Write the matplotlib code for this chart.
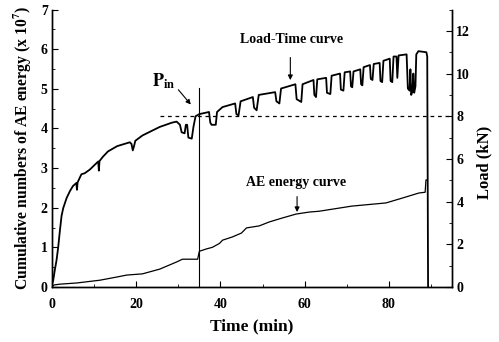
import numpy as np
import matplotlib
matplotlib.use("Agg")
import matplotlib.pyplot as plt
from matplotlib.ticker import MultipleLocator

plt.rcParams['font.family'] = 'Liberation Serif'
plt.rcParams['font.weight'] = 'bold'
plt.rcParams['mathtext.fontset'] = 'stix'

# =========================
# DATA
# =========================

# load-time curve, load in kN
load_t = [0, 0.3, 0.7, 1.1, 1.5, 1.9, 2.3, 2.7, 3.5, 4.3, 5.0, 5.8, 5.95, 6.1,
          7.0, 7.8, 9.0, 10.2, 11.0, 11.15, 11.3, 12.1, 13.3, 15.5, 18.5, 18.9,
          19.2, 19.5, 19.8, 21.5, 25.6, 28.5, 29.6, 30.4, 30.8, 31.5, 31.8, 32.1,
          32.4, 33.2, 33.6, 34.1, 35.0, 37.3, 37.6, 37.9, 38.9, 39.2, 40.5, 43.5,
          43.8, 44.3, 44.8, 47.7, 48.0, 48.6, 49.1, 53.0, 53.3, 54.0, 54.4, 57.8,
          58.1, 59.2, 59.5, 62.1, 62.3, 62.7, 63.0, 65.1, 65.3, 66.1, 66.4, 68.4,
          68.6, 69.2, 69.5, 70.8, 71.0, 71.3, 71.6, 73.2, 73.4, 73.7, 74.0, 75.5,
          75.7, 76.1, 76.4, 77.8, 78.0, 78.4, 78.7, 80.2, 80.4, 80.8, 81.1, 81.8,
          82.0, 82.3, 84.2, 84.5, 84.9, 85.1, 85.3, 85.6, 85.8, 86.0, 86.3, 86.5,
          87.0, 88.9, 89.1, 89.3]
load_kn = [0.1, 0.3, 0.8, 1.25, 1.87, 2.64, 3.34, 3.7, 4.17, 4.5, 4.73, 4.87, 4.55, 4.9,
           5.28, 5.33, 5.5, 5.73, 5.88, 5.45, 5.9, 6.1, 6.35, 6.6, 6.78, 6.7,
           6.4, 6.6, 6.85, 7.1, 7.5, 7.7, 7.75, 7.6, 7.25, 7.2, 7.6, 7.6,
           7.0, 6.95, 7.5, 8.0, 8.1, 8.2, 7.7, 7.6, 7.6, 8.2, 8.43, 8.6,
           8.1, 8.04, 8.7, 8.9, 8.4, 8.28, 9.0, 9.13, 8.7, 8.6, 9.3, 9.5,
           8.8, 8.67, 9.5, 9.7, 9.0, 8.9, 9.73, 9.8, 9.1, 9.04, 9.9, 10.0,
           9.25, 9.2, 10.06, 10.1, 9.4, 9.36, 10.1, 10.2, 9.5, 9.45, 10.3, 10.4,
           9.75, 9.7, 10.45, 10.5, 9.65, 9.6, 10.6, 10.7, 9.65, 9.6, 10.8, 10.8,
           9.8, 10.85, 10.9, 9.3, 9.2, 10.2, 9.0, 9.2, 10.0, 9.1, 9.4, 10.9,
           11.05, 11.0, 10.8, 0.0]

# cumulative AE energy (x 10^7)
ae_t = [0, 0.5, 1.9, 5.9, 11.4, 15.4, 17.8, 21.5, 25.6, 29.6, 31.0, 34.6, 34.8, 35.0,
        36.7, 38.1, 39.8, 40.5, 42.8, 45.0, 46.2, 49.2, 51.6, 54.7, 58.0, 61.1, 63.4,
        71.2, 79.3, 83.1, 87.1, 88.6, 88.8, 89.1]
ae_energy = [0.0, 0.05, 0.07, 0.1, 0.17, 0.25, 0.3, 0.33, 0.45, 0.63, 0.7, 0.7, 0.8, 0.9,
             0.96, 1.0, 1.1, 1.18, 1.26, 1.36, 1.49, 1.54, 1.64, 1.74, 1.84, 1.89, 1.91,
             2.04, 2.12, 2.24, 2.37, 2.39, 2.7, 2.7]

t_pin = 35.0
pin_top = 5.03
load_ref = 8.0
dash_start = 25.6

# =========================
# PLOT
# =========================

fig = plt.figure(figsize=(4.99, 3.42), dpi=100)
ax = fig.add_axes([0.104, 0.161, 0.802, 0.811])
ax2 = ax.twinx()

ax.plot(ae_t, ae_energy, color="black", lw=0.9)
ax.plot([t_pin, t_pin], [0, pin_top], color="black", lw=0.8)

ax2.plot(load_t, load_kn, color="black", lw=1.3)
ax2.plot([dash_start, 95], [load_ref, load_ref], color="black", lw=0.9,
         ls=(0, (3, 3)))

ax.set_xlim(0, 95)
ax.set_ylim(0, 7)
ax2.set_ylim(0, 13)

for a in (ax, ax2):
    a.spines["top"].set_visible(False)
    for s in a.spines.values():
        s.set_linewidth(1.0)

ax.xaxis.set_major_locator(MultipleLocator(20))
ax.xaxis.set_minor_locator(MultipleLocator(10))
ax.yaxis.set_major_locator(MultipleLocator(1))
ax.yaxis.set_minor_locator(MultipleLocator(0.5))
ax2.yaxis.set_minor_locator(MultipleLocator(1))
ax2.set_yticks([0, 2, 4, 6, 8, 10, 12])

ax.tick_params(which="both", direction="in", labelsize=10, pad=3)
ax.tick_params(which="major", length=4)
ax.tick_params(which="minor", length=2)
ax.tick_params(axis="x", pad=8)
ax2.tick_params(which="both", direction="in", labelsize=10, pad=3)
ax2.tick_params(which="major", length=4)
ax2.tick_params(which="minor", length=2)

ax.set_xlabel("Time (min)", fontsize=12.5, fontweight="bold", labelpad=5)
ax.set_ylabel(r"Cumulative numbers of AE energy (x 10$^{\mathbf{7}}$)",
              fontsize=11.3, fontweight="bold", labelpad=5)
ax2.set_ylabel("Load (kN)", fontsize=12, fontweight="bold")
ax2.yaxis.set_label_coords(1.06, 0.45)

# annotations
ax.text(26.5, 5.2, r"$\mathbf{P}_{\mathbf{in}}$", fontsize=13,
        ha="center", va="center")
ax.annotate("", xy=(33.4, 4.55), xytext=(29.6, 5.03),
            arrowprops=dict(arrowstyle="-|>", color="black", lw=0.8,
                            mutation_scale=7))

ax.text(57.0, 6.24, "Load-Time curve", fontsize=10, ha="center", va="center")
ax.annotate("", xy=(56.6, 5.15), xytext=(56.6, 5.86),
            arrowprops=dict(arrowstyle="-|>", color="black", lw=0.8,
                            mutation_scale=7))

ax.text(58.0, 2.63, "AE energy curve", fontsize=10, ha="center", va="center")
ax.annotate("", xy=(58.2, 1.82), xytext=(58.2, 2.35),
            arrowprops=dict(arrowstyle="-|>", color="black", lw=0.8,
                            mutation_scale=7))

fig.savefig("out.png", dpi=100)
